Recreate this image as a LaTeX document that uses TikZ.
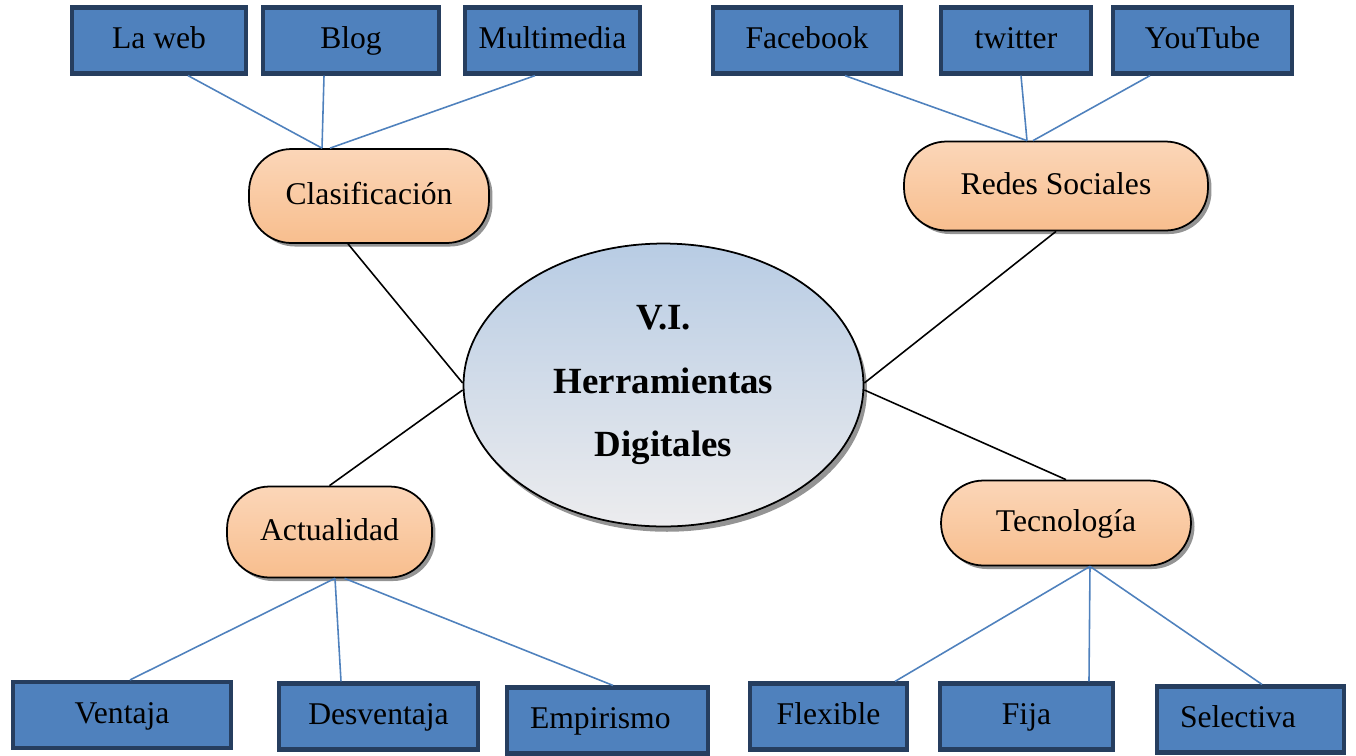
\documentclass[tikz,border=0pt]{standalone}
\usepackage{fontspec}
\setmainfont{Liberation Serif}
\usepackage{tikz}
\usetikzlibrary{shapes,positioning,calc,shadows}
\definecolor{boxBlue}{RGB}{79,129,189}
\definecolor{boxEdge}{RGB}{38,62,95}
\definecolor{peachTop}{RGB}{251,214,184}
\definecolor{peachBot}{RGB}{248,190,142}
\definecolor{skyTop}{RGB}{184,204,228}
\definecolor{skyBot}{RGB}{236,236,238}
\tikzset{
  itemBox/.style={
    rectangle,
    draw=boxEdge,
    line width=2.4pt,
    fill=boxBlue,
    minimum height=1.32cm,
    inner sep=0pt,
    text height=13pt,
    text depth=3.5pt,
    font=\fontsize{18}{22}\selectfont
  },
  topicBox/.style={
    rectangle,
    rounded corners=0.85cm,
    draw=black,
    line width=1pt,
    top color=peachTop,
    bottom color=peachBot,
    inner sep=0pt,
    text height=13pt,
    text depth=3.5pt,
    font=\fontsize{18}{22}\selectfont,
    drop shadow={shadow xshift=2pt, shadow yshift=-2pt, fill=black!70, opacity=0.6}
  },
  centerEllipse/.style={
    ellipse,
    draw=black,
    line width=1pt,
    top color=skyTop,
    bottom color=skyBot,
    minimum width=8cm,
    minimum height=5.66cm,
    inner sep=0pt,
    align=center,
    font=\fontsize{21}{36}\selectfont\bfseries,
    drop shadow={shadow xshift=2pt, shadow yshift=-3pt, fill=black!70, opacity=0.6}
  },
  branchLine/.style={
    draw=boxBlue,
    line width=0.9pt
  },
  trunkLine/.style={
    draw=black,
    line width=0.9pt
  }
}

\begin{document}
\begin{tikzpicture}[x=0.02cm, y=-0.02cm]
    \useasboundingbox (0,0) rectangle (1356,755);

    % centro
    \node[centerEllipse] (core) at (663.5,385) {V.I.\\Herramientas\\Digitales};

    % temas
    \node[topicBox, minimum width=4.8cm, minimum height=1.88cm] (clasif) at (369,196) {Clasificación};
    \node[topicBox, minimum width=6.08cm, minimum height=1.78cm] (redes) at (1056,186) {Redes Sociales};
    \node[topicBox, minimum width=4.1cm, minimum height=1.82cm] (actual) at (329.5,532) {Actualidad};
    \node[topicBox, minimum width=5cm, minimum height=1.7cm] (tecno) at (1066,523) {Tecnología};

    % cajas de arriba
    \node[itemBox, minimum width=3.48cm] (laweb) at (159,40.5) {La web};
    \node[itemBox, minimum width=3.52cm] (blog) at (351,40.5) {Blog};
    \node[itemBox, minimum width=3.5cm] (multi) at (552.5,40.5) {Multimedia};
    \node[itemBox, minimum width=3.76cm] (face) at (807,40.5) {Facebook};
    \node[itemBox, minimum width=3cm] (twitter) at (1016,40.5) {twitter};
    \node[itemBox, minimum width=3.58cm] (youtube) at (1202.5,40.5) {YouTube};

    % cajas de abajo
    \node[itemBox, minimum width=4.36cm] (ventaja) at (122,715) {Ventaja};
    \node[itemBox, minimum width=3.98cm] (desv) at (378.5,716.5) {Desventaja};
    \node[itemBox, minimum width=4.02cm, text width=3.1cm, align=left] (empir) at (607.5,720.5) {Empirismo};
    \node[itemBox, minimum width=3.14cm] (flex) at (828.5,716.5) {Flexible};
    \node[itemBox, minimum width=3.46cm] (fija) at (1026.5,716.5) {Fija};
    \node[itemBox, minimum width=3.74cm, text width=2.82cm, align=left] (selec) at (1250.5,719.5) {Selectiva};

    % lineas negras al centro
    \draw[trunkLine] ([xshift=-0.42cm]clasif.south) -- ([yshift=0.04cm]core.west);
    \draw[trunkLine] (actual.north) -- ([yshift=-0.1cm]core.west);
    \draw[trunkLine] (redes.south) -- ([yshift=0.04cm]core.east);
    \draw[trunkLine] (tecno.north) -- ([yshift=-0.1cm]core.east);

    % lineas azules
    \draw[branchLine] ([xshift=0.58cm]laweb.south) -- ([xshift=-0.94cm]clasif.north);
    \draw[branchLine] ([xshift=-0.54cm]blog.south) -- ([xshift=-0.94cm]clasif.north);
    \draw[branchLine] ([xshift=-0.35cm]multi.south) -- ([xshift=-0.78cm]clasif.north);
    \draw[branchLine] ([xshift=0.76cm]face.south) -- ([xshift=-0.58cm]redes.north);
    \draw[branchLine] ([xshift=0.1cm]twitter.south) -- ([xshift=-0.58cm]redes.north);
    \draw[branchLine] ([xshift=-1.05cm]youtube.south) -- ([xshift=-0.46cm]redes.north);
    \draw[branchLine] ([xshift=0.11cm]actual.south) -- ([xshift=0.16cm]ventaja.north);
    \draw[branchLine] ([xshift=0.11cm]actual.south) -- ([xshift=-0.75cm]desv.north);
    \draw[branchLine] ([xshift=0.3cm]actual.south) -- ([xshift=0.11cm]empir.north);
    \draw[branchLine] ([xshift=0.48cm]tecno.south) -- ([xshift=1.33cm]flex.north);
    \draw[branchLine] ([xshift=0.48cm]tecno.south) -- ([xshift=1.25cm]fija.north);
    \draw[branchLine] ([xshift=0.48cm]tecno.south) -- ([xshift=0.23cm]selec.north);
\end{tikzpicture}
\end{document}
